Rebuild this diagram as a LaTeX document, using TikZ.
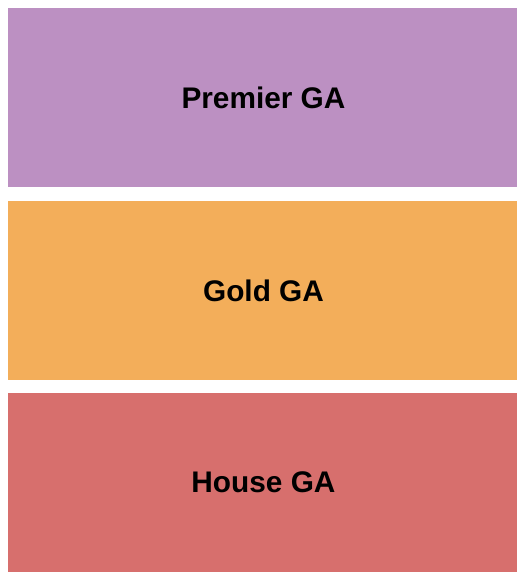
\documentclass[tikz,border=0pt]{standalone}
\usepackage{fontspec}
\setmainfont{Liberation Sans}
\definecolor{premier}{RGB}{188,144,194}
\definecolor{gold}{RGB}{243,174,90}
\definecolor{house}{RGB}{215,111,109}
\begin{document}
\begin{tikzpicture}[x=1pt,y=-1pt,
  zone/.style={draw=none,minimum width=509pt,minimum height=179pt,inner sep=0pt},
  zlabel/.style={font=\fontsize{29.8}{32}\selectfont\bfseries,text=black,inner sep=0pt}]
\useasboundingbox (0,0) rectangle (525,580);
\node[zone,fill=premier] (premier) at (262.5,97.5) {};
\node[zone,fill=gold] (gold) at (262.5,290.5) {};
\node[zone,fill=house] (house) at (262.5,482.5) {};
\node[zlabel,xshift=1pt] (premierlabel) at (premier.center) {Premier GA};
\node[zlabel,xshift=1pt] (goldlabel) at (gold.center) {Gold GA};
\node[zlabel,xshift=1pt] (houselabel) at (house.center) {House GA};
\end{tikzpicture}
\end{document}
